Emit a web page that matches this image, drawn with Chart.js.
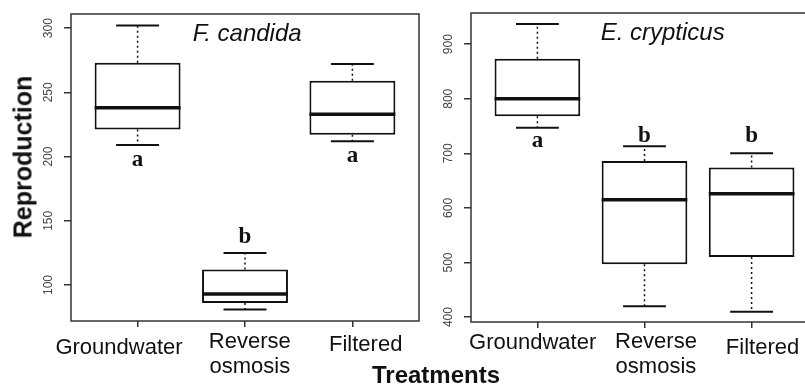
<!DOCTYPE html>
<html>
<head>
<meta charset="utf-8">
<script src="https://cdn.jsdelivr.net/npm/chart.js@4.4.1/dist/chart.umd.min.js"></script>
<style>
  html, body { margin: 0; padding: 0; background: #fff; overflow: hidden; }
  #wrap { position: relative; width: 805px; height: 387px; overflow: hidden; }
  canvas { position: absolute; top: 0; }
  #leftChart { left: 0; }
  #rightChart { left: 420px; }
  .axis-title {
    position: absolute;
    font-family: "Liberation Sans", Arial, sans-serif;
    font-weight: bold;
    color: #111;
    white-space: nowrap;
    line-height: 1;
  }
</style>
</head>
<body>
<div id="wrap">
  <canvas id="leftChart" width="420" height="387"></canvas>
  <canvas id="rightChart" width="400" height="387"></canvas>
  <div class="axis-title" style="left:23px; top:157px; font-size:25px; transform:translate(-50%,-50%) rotate(-90deg);">Reproduction</div>
  <div class="axis-title" style="left:436px; top:375px; font-size:24px; transform:translate(-50%,-50%);">Treatments</div>
</div>

<script>
// =================== Data ===================

const treatments = ['Groundwater', 'Reverse osmosis', 'Filtered'];

// F. candida (left panel)
const fcLow  = [209, 81, 212];
const fcQ1   = [221, 86, 217];
const fcMed  = [238, 93, 233];
const fcQ3   = [273, 112, 259];
const fcHigh = [302, 125, 272];
const fcLetters = ['a', 'b', 'a'];
const fcLetterY = [193, 133, 196];
const fcTicks = [100, 150, 200, 250, 300];

// E. crypticus (right panel)
const ecLow  = [747, 420, 410];
const ecQ1   = [768, 497, 510];
const ecMed  = [800, 615, 626];
const ecQ3   = [873, 686, 674];
const ecHigh = [937, 713, 700];
const ecLetters = ['a', 'b', 'b'];
const ecLetterY = [712, 721, 721];
const ecTicks = [400, 500, 600, 700, 800, 900];

const SANS = '"Liberation Sans", Arial, sans-serif';
const SERIF = '"Liberation Serif", "Times New Roman", serif';

// =================== Panel builder ===================

function makePanel(canvasId, p) {
  // whiskers, medians, letters, frame, rotated tick labels, category labels, title
  const boxExtras = {
    id: 'boxExtras',
    afterDatasetsDraw(chart) {
      const ctx = chart.ctx;
      const xs = chart.scales.x, ys = chart.scales.y;
      const bars = chart.getDatasetMeta(0).data;
      ctx.save();
      ctx.strokeStyle = '#111';
      ctx.fillStyle = '#111';
      treatments.forEach((t, i) => {
        const cx = xs.getPixelForValue(i + 1);
        const w = bars[i].width;

        // dashed whiskers
        ctx.lineWidth = 1.5;
        ctx.setLineDash([2, 3]);
        ctx.beginPath();
        ctx.moveTo(cx, ys.getPixelForValue(p.q3[i]));
        ctx.lineTo(cx, ys.getPixelForValue(p.high[i]));
        ctx.moveTo(cx, ys.getPixelForValue(p.q1[i]));
        ctx.lineTo(cx, ys.getPixelForValue(p.low[i]));
        ctx.stroke();

        // staples
        ctx.setLineDash([]);
        ctx.lineWidth = 2;
        ctx.beginPath();
        ctx.moveTo(cx - w / 4, ys.getPixelForValue(p.high[i]));
        ctx.lineTo(cx + w / 4, ys.getPixelForValue(p.high[i]));
        ctx.moveTo(cx - w / 4, ys.getPixelForValue(p.low[i]));
        ctx.lineTo(cx + w / 4, ys.getPixelForValue(p.low[i]));
        ctx.stroke();

        // median
        ctx.lineWidth = 3.5;
        ctx.beginPath();
        ctx.moveTo(cx - w / 2, ys.getPixelForValue(p.med[i]));
        ctx.lineTo(cx + w / 2, ys.getPixelForValue(p.med[i]));
        ctx.stroke();

        // significance letter
        ctx.font = 'bold 23px ' + SERIF;
        ctx.textAlign = 'center';
        ctx.textBaseline = 'alphabetic';
        ctx.fillText(p.letters[i], cx, ys.getPixelForValue(p.letterY[i]));
      });
      ctx.restore();
    },
    afterDraw(chart) {
      const ctx = chart.ctx;
      const a = chart.chartArea;
      const xs = chart.scales.x, ys = chart.scales.y;
      ctx.save();

      // plot frame
      ctx.strokeStyle = '#333';
      ctx.lineWidth = 1.5;
      ctx.strokeRect(a.left, a.top, a.right - a.left, a.bottom - a.top);

      // rotated y tick labels
      ctx.fillStyle = '#444';
      ctx.font = '12px ' + SANS;
      ctx.textAlign = 'center';
      ctx.textBaseline = 'middle';
      ys.ticks.forEach(t => {
        ctx.save();
        ctx.translate(a.left - 22.5, ys.getPixelForValue(t.value));
        ctx.rotate(-Math.PI / 2);
        ctx.fillText(String(t.value), 0, 0);
        ctx.restore();
      });

      // category labels (placed like the original, not quite centred on ticks)
      ctx.fillStyle = '#111';
      ctx.font = '22px ' + SANS;
      ctx.textBaseline = 'alphabetic';
      treatments.forEach((t, i) => {
        const x = xs.getPixelForValue(p.labelX[i]);
        t.split(' ').forEach((line, k) => {
          ctx.fillText(line, x, a.bottom + p.labelDy[i] + k * 25);
        });
      });

      // species title
      ctx.font = 'italic 24px ' + SANS;
      ctx.fillText(p.title, xs.getPixelForValue(p.titleX), ys.getPixelForValue(p.titleY));
      ctx.restore();
    }
  };

  return new Chart(document.getElementById(canvasId), {
    type: 'bar',
    data: {
      datasets: [{
        data: treatments.map((t, i) => ({ x: i + 1, y: [p.q1[i], p.q3[i]] })),
        backgroundColor: '#fff',
        borderColor: '#111',
        borderWidth: 2,
        borderSkipped: false,
        barPercentage: 0.8,
        categoryPercentage: 1
      }]
    },
    options: {
      responsive: false,
      animation: false,
      devicePixelRatio: 1,
      layout: { padding: { top: p.padTop, right: p.padRight, left: 0, bottom: 0 } },
      plugins: { legend: { display: false }, tooltip: { enabled: false } },
      scales: {
        x: {
          type: 'linear',
          min: 0.38,
          max: 3.62,
          offset: false,
          afterBuildTicks: s => { s.ticks = treatments.map((t, i) => ({ value: i + 1 })); },
          afterFit: s => { s.height = p.xAxisHeight; },
          grid: { offset: false, drawOnChartArea: false, drawTicks: true, tickLength: 6, color: '#333', lineWidth: 1.5 },
          border: { display: false },
          ticks: { display: false }
        },
        y: {
          type: 'linear',
          min: p.yMin,
          max: p.yMax,
          beginAtZero: false,
          afterBuildTicks: s => { s.ticks = p.ticks.map(v => ({ value: v })); },
          afterFit: s => { s.width = p.yAxisWidth; },
          grid: { drawOnChartArea: false, drawTicks: true, tickLength: 7, color: '#333', lineWidth: 1.5 },
          border: { display: false },
          ticks: { display: false }
        }
      }
    },
    plugins: [boxExtras]
  });
}

// =================== Initialize ===================

makePanel('leftChart', {
  low: fcLow, q1: fcQ1, med: fcMed, q3: fcQ3, high: fcHigh,
  letters: fcLetters, letterY: fcLetterY, ticks: fcTicks,
  yMin: 72, yMax: 311,
  title: 'F. candida', titleX: 2.02, titleY: 290,
  labelX: [0.827, 2.045, 3.124], labelDy: [33, 27, 30],
  padTop: 14, padRight: 1, yAxisWidth: 71, xAxisHeight: 66
});

makePanel('rightChart', {
  low: ecLow, q1: ecQ1, med: ecMed, q3: ecQ3, high: ecHigh,
  letters: ecLetters, letterY: ecLetterY, ticks: ecTicks,
  yMin: 391, yMax: 957,
  title: 'E. crypticus', titleX: 2.17, titleY: 907,
  labelX: [0.956, 2.107, 3.102], labelDy: [27, 26, 32],
  padTop: 13, padRight: 2, yAxisWidth: 51, xAxisHeight: 65
});
</script>
</body>
</html>
